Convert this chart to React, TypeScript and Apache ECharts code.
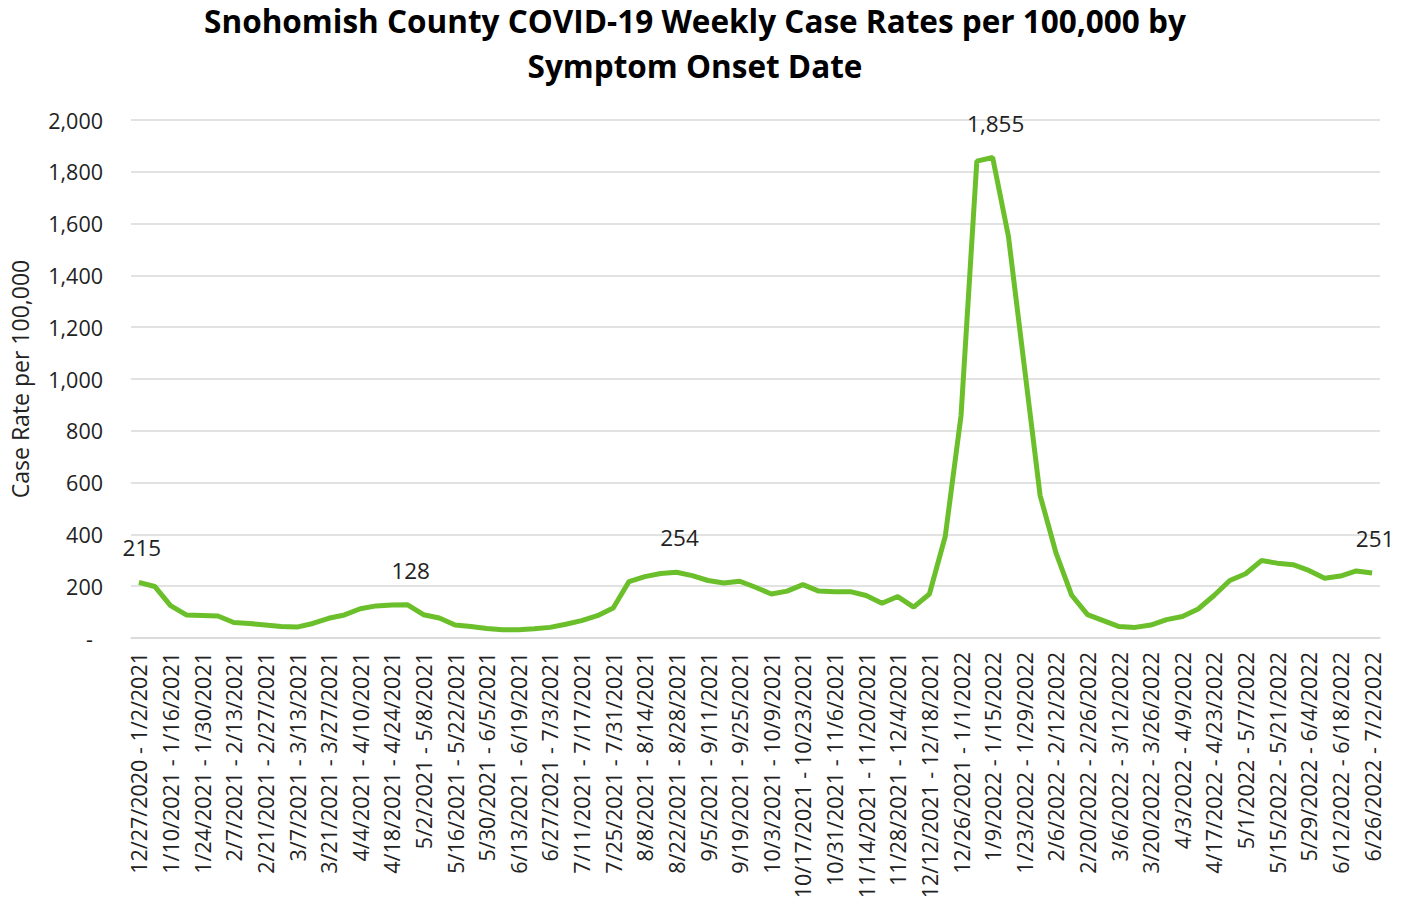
import React, { useEffect, useRef } from "react";
import * as echarts from "echarts";

const weekLabels: string[] = [
  "12/27/2020 - 1/2/2021", "1/3/2021 - 1/9/2021", "1/10/2021 - 1/16/2021", "1/17/2021 - 1/23/2021",
  "1/24/2021 - 1/30/2021", "1/31/2021 - 2/6/2021", "2/7/2021 - 2/13/2021", "2/14/2021 - 2/20/2021",
  "2/21/2021 - 2/27/2021", "2/28/2021 - 3/6/2021", "3/7/2021 - 3/13/2021", "3/14/2021 - 3/20/2021",
  "3/21/2021 - 3/27/2021", "3/28/2021 - 4/3/2021", "4/4/2021 - 4/10/2021", "4/11/2021 - 4/17/2021",
  "4/18/2021 - 4/24/2021", "4/25/2021 - 5/1/2021", "5/2/2021 - 5/8/2021", "5/9/2021 - 5/15/2021",
  "5/16/2021 - 5/22/2021", "5/23/2021 - 5/29/2021", "5/30/2021 - 6/5/2021", "6/6/2021 - 6/12/2021",
  "6/13/2021 - 6/19/2021", "6/20/2021 - 6/26/2021", "6/27/2021 - 7/3/2021", "7/4/2021 - 7/10/2021",
  "7/11/2021 - 7/17/2021", "7/18/2021 - 7/24/2021", "7/25/2021 - 7/31/2021", "8/1/2021 - 8/7/2021",
  "8/8/2021 - 8/14/2021", "8/15/2021 - 8/21/2021", "8/22/2021 - 8/28/2021", "8/29/2021 - 9/4/2021",
  "9/5/2021 - 9/11/2021", "9/12/2021 - 9/18/2021", "9/19/2021 - 9/25/2021", "9/26/2021 - 10/2/2021",
  "10/3/2021 - 10/9/2021", "10/10/2021 - 10/16/2021", "10/17/2021 - 10/23/2021", "10/24/2021 - 10/30/2021",
  "10/31/2021 - 11/6/2021", "11/7/2021 - 11/13/2021", "11/14/2021 - 11/20/2021", "11/21/2021 - 11/27/2021",
  "11/28/2021 - 12/4/2021", "12/5/2021 - 12/11/2021", "12/12/2021 - 12/18/2021", "12/19/2021 - 12/25/2021",
  "12/26/2021 - 1/1/2022", "1/2/2022 - 1/8/2022", "1/9/2022 - 1/15/2022", "1/16/2022 - 1/22/2022",
  "1/23/2022 - 1/29/2022", "1/30/2022 - 2/5/2022", "2/6/2022 - 2/12/2022", "2/13/2022 - 2/19/2022",
  "2/20/2022 - 2/26/2022", "2/27/2022 - 3/5/2022", "3/6/2022 - 3/12/2022", "3/13/2022 - 3/19/2022",
  "3/20/2022 - 3/26/2022", "3/27/2022 - 4/2/2022", "4/3/2022 - 4/9/2022", "4/10/2022 - 4/16/2022",
  "4/17/2022 - 4/23/2022", "4/24/2022 - 4/30/2022", "5/1/2022 - 5/7/2022", "5/8/2022 - 5/14/2022",
  "5/15/2022 - 5/21/2022", "5/22/2022 - 5/28/2022", "5/29/2022 - 6/4/2022", "6/5/2022 - 6/11/2022",
  "6/12/2022 - 6/18/2022", "6/19/2022 - 6/25/2022", "6/26/2022 - 7/2/2022",
];

const caseRates: number[] = [
  215, 199, 125, 89, 87, 85, 60, 56, 50, 44,
  42, 56, 76, 89, 113, 124, 127, 128, 90, 77,
  50, 44, 37, 32, 32, 36, 41, 53, 67, 86,
  116, 218, 237, 249, 254, 241, 222, 212, 219, 196,
  170, 181, 206, 181, 179, 179, 164, 134, 160, 119,
  170, 392, 858, 1841, 1855, 1550, 1050, 551, 330, 165,
  90, 67, 44, 41, 50, 71, 83, 112, 164, 222,
  248, 299, 289, 283, 261, 231, 239, 259, 251,
];

const labeledWeeks: number[] = [0, 17, 34, 54, 78];

const yTicks = { min: 0, max: 2000, interval: 200 };

const titleLines: string[] = [
  "Snohomish County COVID-19 Weekly Case Rates per 100,000 by",
  "Symptom Onset Date",
];

const yAxisName = "Case Rate per 100,000";

export default function App() {
  const ref = useRef<HTMLDivElement>(null);

  useEffect(() => {
    if (!ref.current) return;
    const chart = echarts.init(ref.current, null, { renderer: "svg" });
    const font = "'Open Sans', sans-serif";
    const seriesData = caseRates.map((v, i) =>
      labeledWeeks.includes(i)
        ? { value: v, label: { show: true } }
        : { value: v }
    );
    chart.setOption({
      animation: false,
      backgroundColor: "#ffffff",
      title: {
        text: titleLines.join("\n"),
        left: 690,
        top: -7,
        textAlign: "center",
        textStyle: {
          fontFamily: font,
          fontWeight: "bold",
          fontSize: 31.5,
          lineHeight: 45,
          color: "#000000",
        },
      },
      grid: { left: 131, right: 33, top: 120, bottom: 267 },
      xAxis: {
        type: "category",
        data: weekLabels,
        boundaryGap: true,
        axisLine: { show: true, lineStyle: { color: "#d9d9d9", width: 1.5 } },
        axisTick: { show: false },
        axisLabel: {
          rotate: 90,
          interval: 1,
          margin: 14,
          fontFamily: font,
          fontSize: 21.5,
          color: "#222222",
        },
      },
      yAxis: {
        type: "value",
        min: yTicks.min,
        max: yTicks.max,
        interval: yTicks.interval,
        name: yAxisName,
        nameLocation: "middle",
        nameGap: 100,
        nameTextStyle: { fontFamily: font, fontSize: 23, color: "#222222" },
        axisLine: { show: false },
        axisTick: { show: false },
        splitLine: { lineStyle: { color: "#d9d9d9", width: 1.5 } },
        axisLabel: {
          margin: 28,
          fontFamily: font,
          fontSize: 21.5,
          color: "#222222",
          formatter: (v: number) =>
            v === 0 ? "{d|-}" : v.toLocaleString("en-US"),
          rich: { d: { padding: [0, 10, 0, 0], fontFamily: font, fontSize: 21.5, color: "#222222" } },
        },
      },
      series: [
        {
          type: "line",
          data: seriesData,
          symbol: "circle",
          symbolSize: 0,
          showSymbol: true,
          lineStyle: { color: "#6abf2a", width: 5 },
          itemStyle: { color: "#6abf2a" },
          label: {
            show: false,
            position: "top",
            distance: 23,
            offset: [3, 0],
            fontFamily: font,
            fontSize: 22.5,
            color: "#222222",
            formatter: (p: any) => Number(p.value).toLocaleString("en-US"),
          },
        },
      ],
    });
    return () => chart.dispose();
  }, []);

  return (
    <div
      ref={ref}
      style={{ position: "fixed", left: 0, top: 0, width: 1413, height: 905 }}
    />
  );
}
